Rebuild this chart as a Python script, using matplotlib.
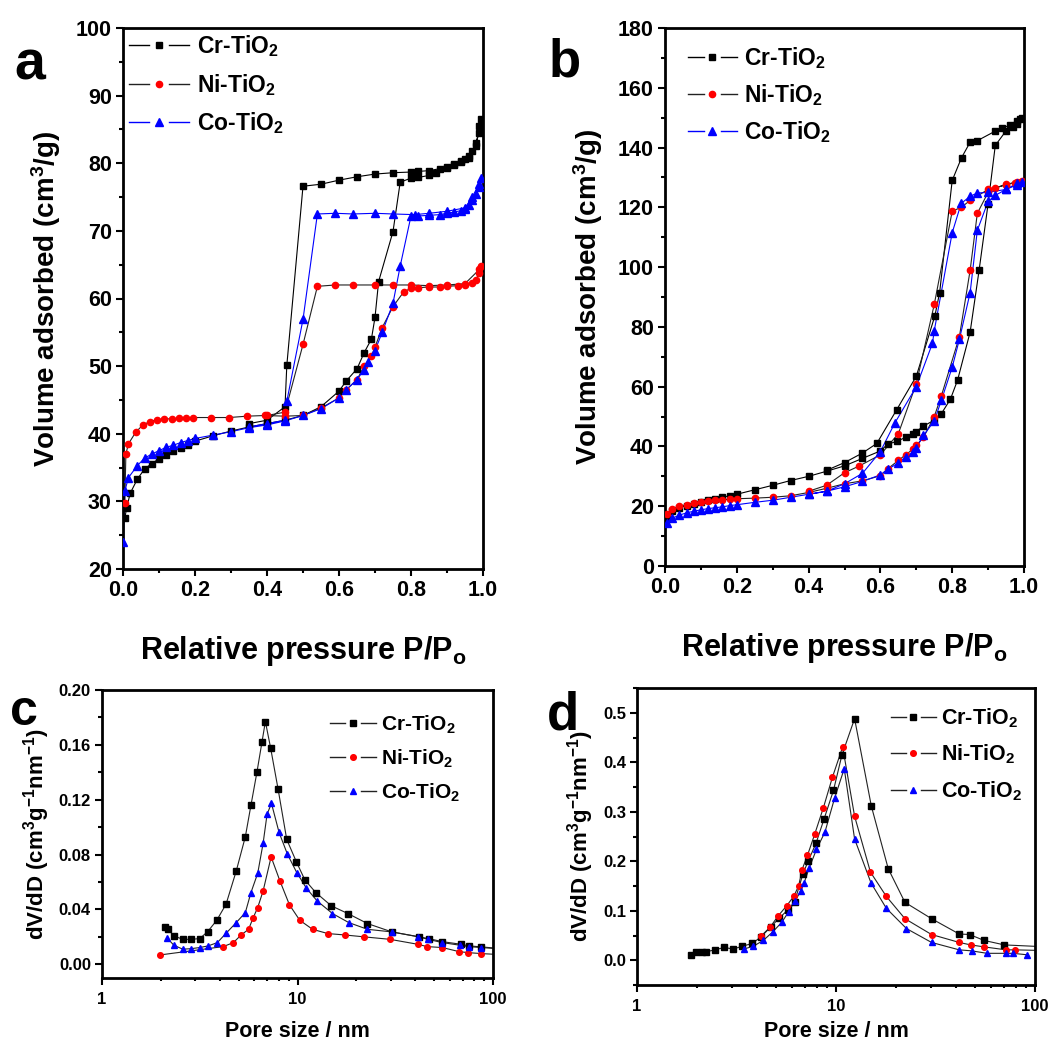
import numpy as np
import matplotlib.pyplot as plt
from matplotlib.lines import Line2D
from matplotlib.legend_handler import HandlerBase
from matplotlib.ticker import MultipleLocator, LogLocator, NullFormatter, FixedLocator, FixedFormatter

plt.rcParams['font.family'] = ['Liberation Sans', 'DejaVu Sans']
plt.rcParams['font.weight'] = 'bold'
plt.rcParams['mathtext.fontset'] = 'custom'
plt.rcParams['mathtext.rm'] = 'Liberation Sans:bold'
plt.rcParams['mathtext.bf'] = 'Liberation Sans:bold'
plt.rcParams['mathtext.it'] = 'Liberation Sans:bold'
plt.rcParams['mathtext.default'] = 'rm'

samples = ['Cr-TiO$_2$', 'Ni-TiO$_2$', 'Co-TiO$_2$']

# ---- panel a: N2 isotherms (adsorption + desorption branches)
cr_a_ads_p = [0.005, 0.01, 0.02, 0.04, 0.06, 0.08, 0.10, 0.12, 0.14, 0.16, 0.18, 0.20, 0.25, 0.30, 0.35, 0.40,
              0.45, 0.50, 0.55, 0.60, 0.62, 0.65, 0.67, 0.69, 0.70, 0.71, 0.75, 0.77, 0.80, 0.82, 0.85, 0.87,
              0.90, 0.92, 0.94, 0.95, 0.96, 0.97, 0.98, 0.99, 0.995]
cr_a_ads_v = [27.5, 29.0, 31.2, 33.3, 34.8, 35.6, 36.3, 36.9, 37.4, 37.9, 38.4, 38.9, 39.7, 40.4, 41.0, 41.5,
              42.0, 42.7, 44.0, 46.3, 47.8, 49.6, 52.0, 54.0, 57.2, 62.5, 69.9, 77.2, 77.8, 77.9, 78.2, 78.6,
              79.3, 79.8, 80.3, 80.6, 81.0, 81.8, 83.0, 84.5, 86.5]
cr_a_des_p = [0.99, 0.98, 0.96, 0.94, 0.92, 0.90, 0.88, 0.85, 0.82, 0.80, 0.75, 0.70, 0.65, 0.60, 0.55, 0.50,
              0.455, 0.45, 0.40, 0.35]
cr_a_des_v = [85.5, 82.5, 80.8, 80.2, 79.9, 79.5, 79.2, 78.9, 78.8, 78.7, 78.6, 78.4, 78.0, 77.5, 76.9, 76.6,
              50.1, 44.0, 42.0, 41.5]

ni_a_ads_p = [0.005, 0.008, 0.015, 0.035, 0.055, 0.075, 0.095, 0.115, 0.135, 0.155, 0.175, 0.195, 0.245, 0.295,
              0.345, 0.395, 0.45, 0.50, 0.55, 0.60, 0.62, 0.65, 0.67, 0.69, 0.70, 0.72, 0.75, 0.78, 0.80, 0.82,
              0.85, 0.88, 0.90, 0.93, 0.95, 0.97, 0.98, 0.99, 0.995]
ni_a_ads_v = [29.7, 37.0, 38.5, 40.2, 41.3, 41.8, 42.1, 42.2, 42.2, 42.3, 42.3, 42.4, 42.4, 42.4,
              42.6, 42.7, 42.6, 42.7, 43.8, 45.3, 46.5, 48.0, 50.0, 51.5, 52.8, 55.7, 58.8, 61.0, 61.5, 61.6,
              61.7, 61.7, 61.8, 61.9, 62.0, 62.3, 62.8, 63.8, 64.8]
ni_a_des_p = [0.99, 0.95, 0.90, 0.85, 0.80, 0.75, 0.70, 0.64, 0.59, 0.54, 0.50, 0.45, 0.40]
ni_a_des_v = [64.3, 62.2, 62.0, 61.9, 62.0, 62.0, 62.0, 62.0, 62.0, 61.8, 53.2, 43.2, 42.7]

co_a_ads_p = [0.001, 0.005, 0.015, 0.04, 0.06, 0.08, 0.10, 0.12, 0.14, 0.16, 0.18, 0.20, 0.25, 0.30, 0.35, 0.40,
              0.45, 0.50, 0.55, 0.60, 0.62, 0.65, 0.67, 0.68, 0.70, 0.72, 0.75, 0.77, 0.80, 0.82, 0.85, 0.88,
              0.90, 0.92, 0.94, 0.95, 0.96, 0.97, 0.98, 0.99, 0.995]
co_a_ads_v = [24.0, 31.5, 33.5, 35.3, 36.4, 37.0, 37.5, 38.0, 38.3, 38.7, 39.0, 39.3, 39.8, 40.3, 40.9, 41.3,
              41.9, 42.7, 43.7, 45.3, 46.5, 48.0, 49.5, 50.6, 52.3, 55.0, 59.3, 64.8, 72.2, 72.2, 72.3, 72.4,
              72.6, 72.8, 73.0, 73.3, 73.8, 74.5, 75.5, 76.5, 77.8]
co_a_des_p = [0.99, 0.97, 0.95, 0.90, 0.85, 0.81, 0.75, 0.70, 0.64, 0.59, 0.54, 0.50, 0.455, 0.45, 0.40, 0.35]
co_a_des_v = [77.0, 75.0, 73.4, 72.9, 72.6, 72.4, 72.5, 72.6, 72.5, 72.6, 72.5, 56.9, 44.8, 42.0, 41.5, 41.0]

# ---- panel b
cr_b_ads_p = [0.005, 0.02, 0.04, 0.06, 0.08, 0.10, 0.12, 0.14, 0.16, 0.18, 0.20, 0.25, 0.30, 0.35, 0.40, 0.45,
              0.50, 0.55, 0.60, 0.62, 0.645, 0.67, 0.69, 0.70, 0.72, 0.75, 0.77, 0.795, 0.815, 0.85, 0.875,
              0.90, 0.92, 0.95, 0.97, 0.98, 0.99]
cr_b_ads_v = [16.5, 18.5, 19.5, 20.2, 20.8, 21.5, 22.0, 22.5, 23.0, 23.5, 24.0, 25.5, 27.0, 28.6, 30.0, 31.7,
              33.5, 36.0, 38.5, 40.7, 41.7, 43.0, 44.3, 45.0, 46.8, 48.8, 51.0, 55.8, 62.2, 78.3, 99.0,
              121.2, 140.7, 145.6, 147.0, 148.0, 149.5]
cr_b_des_p = [0.995, 0.98, 0.96, 0.94, 0.92, 0.87, 0.85, 0.826, 0.80, 0.765, 0.752, 0.70, 0.645, 0.59, 0.55,
              0.50, 0.45]
cr_b_des_v = [150.0, 149.0, 147.5, 146.5, 145.5, 142.3, 141.8, 136.6, 129.0, 91.5, 83.8, 63.5, 52.2, 41.0, 37.8,
              34.6, 32.0]

ni_b_ads_p = [0.005, 0.02, 0.04, 0.06, 0.08, 0.10, 0.12, 0.14, 0.16, 0.18, 0.20, 0.25, 0.30, 0.35, 0.40, 0.45,
              0.50, 0.55, 0.60, 0.62, 0.65, 0.67, 0.69, 0.70, 0.72, 0.75, 0.77, 0.82, 0.85, 0.87, 0.90, 0.92,
              0.95, 0.975, 0.995]
ni_b_ads_v = [17.5, 19.0, 20.0, 20.5, 21.0, 21.3, 21.7, 22.0, 22.2, 22.3, 22.5, 22.7, 23.0, 23.5, 24.6, 26.0,
              27.5, 28.5, 30.2, 32.5, 35.3, 37.2, 39.0, 40.4, 43.0, 50.0, 57.0, 76.7, 99.0, 118.0, 125.0, 126.4,
              127.7, 128.3, 128.7]
ni_b_des_p = [0.98, 0.95, 0.90, 0.85, 0.825, 0.80, 0.75, 0.70, 0.65, 0.60, 0.54, 0.50, 0.45, 0.40]
ni_b_des_v = [128.5, 127.5, 126.0, 122.3, 120.0, 118.7, 87.5, 61.0, 44.3, 37.2, 33.4, 31.2, 27.0, 25.0]

co_b_ads_p = [0.005, 0.02, 0.04, 0.06, 0.08, 0.10, 0.12, 0.14, 0.16, 0.18, 0.20, 0.25, 0.30, 0.35, 0.40, 0.45,
              0.50, 0.55, 0.60, 0.62, 0.65, 0.67, 0.69, 0.70, 0.72, 0.75, 0.77, 0.80, 0.82, 0.85, 0.87, 0.90,
              0.92, 0.95, 0.98, 0.995]
co_b_ads_v = [14.5, 16.0, 17.0, 17.8, 18.3, 18.8, 19.2, 19.5, 19.8, 20.2, 20.5, 21.3, 22.0, 23.0, 24.0, 25.0,
              26.5, 28.3, 30.5, 32.3, 34.5, 36.5, 38.0, 39.5, 43.7, 48.5, 55.5, 66.5, 75.8, 91.5, 112.3, 122.0,
              124.0, 126.0, 127.5, 128.5]
co_b_des_p = [0.98, 0.95, 0.90, 0.87, 0.85, 0.825, 0.80, 0.75, 0.745, 0.70, 0.64, 0.60, 0.55, 0.50, 0.45, 0.40]
co_b_des_v = [128.0, 126.0, 125.0, 124.8, 123.7, 121.3, 111.5, 78.7, 74.5, 60.0, 47.8, 38.3, 31.0, 27.5, 25.0, 24.0]

# ---- panel c: pore size distribution
cr_c_d = [2.10, 2.18, 2.33, 2.59, 2.84, 3.16, 3.47, 3.86, 4.31, 4.86, 5.41, 5.78, 6.20, 6.58, 6.85, 7.28, 7.95,
          8.81, 9.87, 10.9, 12.4, 14.9, 18.1, 22.8, 30.4, 41.7, 46.9, 55.1, 68.5, 75.6, 87.0, 130.0]
cr_c_v = [0.0273, 0.0255, 0.0207, 0.0182, 0.0182, 0.0187, 0.0238, 0.032, 0.0438, 0.068, 0.093, 0.116, 0.140,
          0.162, 0.177, 0.158, 0.128, 0.091, 0.0747, 0.0616, 0.0523, 0.0426, 0.037, 0.0297, 0.0236, 0.020,
          0.0187, 0.0165, 0.0146, 0.0134, 0.0127, 0.0105]
ni_c_d = [1.98, 4.17, 4.70, 5.15, 5.62, 5.92, 6.26, 6.67, 7.33, 8.13, 9.10, 10.27, 11.94, 14.3, 17.4, 21.9, 29.7,
          41.2, 46.0, 55.1, 67.2, 74.8, 87.0, 130.0]
ni_c_v = [0.0068, 0.0129, 0.0158, 0.0214, 0.0255, 0.0336, 0.0414, 0.0535, 0.0783, 0.0608, 0.0433, 0.0321, 0.0255,
          0.0224, 0.0214, 0.020, 0.0182, 0.0146, 0.0129, 0.0122, 0.0092, 0.0085, 0.0078, 0.0065]
co_c_d = [2.16, 2.33, 2.59, 2.86, 3.16, 3.49, 3.89, 4.31, 4.86, 5.41, 5.78, 6.26, 6.67, 6.99, 7.36, 8.05, 8.88,
          9.91, 11.1, 12.6, 15.1, 18.3, 22.8, 30.4, 41.2, 46.5, 55.1, 67.8, 75.1, 87.0, 130.0]
co_c_v = [0.019, 0.0139, 0.011, 0.0114, 0.0122, 0.0134, 0.0158, 0.0226, 0.0304, 0.0377, 0.0523, 0.0664, 0.0883,
          0.1095, 0.1173, 0.0961, 0.0803, 0.0669, 0.0555, 0.0462, 0.037, 0.0304, 0.0255, 0.0236, 0.0202, 0.0182,
          0.0158, 0.0139, 0.0129, 0.0122, 0.0105]

# ---- panel d
cr_d_d = [1.87, 1.98, 2.11, 2.22, 2.46, 2.75, 3.03, 3.37, 3.79, 4.18, 4.70, 5.19, 5.71, 6.19, 6.83, 7.24, 7.93,
          8.72, 9.71, 10.7, 12.4, 15.06, 18.3, 22.2, 30.2, 41.6, 46.9, 55.5, 70.1, 130.0]
cr_d_v = [0.011, 0.0157, 0.017, 0.017, 0.021, 0.026, 0.0226, 0.028, 0.034, 0.0465, 0.067, 0.0855, 0.101, 0.118,
          0.175, 0.200, 0.236, 0.286, 0.343, 0.414, 0.488, 0.311, 0.185, 0.117, 0.084, 0.053, 0.052, 0.040,
          0.031, 0.026]
ni_d_d = [4.18, 4.67, 5.12, 5.65, 6.13, 6.49, 6.75, 7.19, 7.82, 8.64, 9.60, 10.8, 12.4, 14.9, 17.9, 22.2, 30.2,
          41.6, 47.5, 55.5, 71.6, 79.3, 130.0]
ni_d_v = [0.048, 0.067, 0.0896, 0.110, 0.129, 0.150, 0.183, 0.212, 0.255, 0.308, 0.370, 0.431, 0.291, 0.178,
          0.129, 0.084, 0.052, 0.036, 0.031, 0.027, 0.021, 0.021, 0.019]
co_d_d = [3.43, 3.83, 4.31, 4.80, 5.35, 5.78, 6.23, 6.64, 6.91, 7.34, 7.98, 8.80, 9.83, 11.0, 12.4, 15.0, 17.9,
          22.6, 30.2, 41.6, 48.0, 57.4, 71.6, 77.5, 91.5]
co_d_v = [0.0226, 0.028, 0.040, 0.057, 0.077, 0.098, 0.120, 0.139, 0.156, 0.187, 0.224, 0.259, 0.327, 0.387,
          0.245, 0.156, 0.105, 0.064, 0.036, 0.021, 0.019, 0.014, 0.014, 0.014, 0.011]

colors = ['black', 'red', 'blue']
markers = ['s', 'o', '^']
msizes = [4.5, 4.5, 5.5]

W, H = 1049, 1045
fig = plt.figure(figsize=(W / 100, H / 100), dpi=100)


class GapLineHandler(HandlerBase):
    """legend key drawn as  — marker —  with the line broken around the marker"""
    def create_artists(self, legend, orig, xdescent, ydescent, width, height, fontsize, trans):
        y = height / 2 - ydescent
        x0 = -xdescent
        x1 = x0 + width
        xm = (x0 + x1) / 2
        g = 0.17 * width
        kw = dict(color=orig.get_color(), lw=orig.get_linewidth())
        left = Line2D([x0, xm - g], [y, y], **kw)
        right = Line2D([xm + g, x1], [y, y], **kw)
        mk = Line2D([xm], [y], ls='none', marker=orig.get_marker(), markersize=orig.get_markersize(),
                    markerfacecolor=orig.get_markerfacecolor(), markeredgecolor=orig.get_markeredgecolor())
        for a in (left, right, mk):
            a.set_transform(trans)
        return [left, right, mk]


def px_axes(left, top, right, bottom):
    return fig.add_axes([left / W, 1 - bottom / H, (right - left) / W, (bottom - top) / H])


def style_axes(ax, tick_size):
    for s in ax.spines.values():
        s.set_linewidth(2.0)
    ax.tick_params(which='both', direction='out', top=False, right=False, width=1.5,
                   labelsize=tick_size, pad=3)
    ax.tick_params(which='major', length=5)
    ax.tick_params(which='minor', length=3)
    for lab in ax.get_xticklabels() + ax.get_yticklabels():
        lab.set_fontweight('bold')


def legend_handles(line_colors, ms_scale=1.0):
    hs = []
    for c, m, ms, lc in zip(colors, markers, msizes, line_colors):
        hs.append(Line2D([], [], color=lc, lw=1.0, marker=m, markersize=ms * ms_scale,
                         markerfacecolor=c, markeredgecolor=c))
    return hs


# ---------- a and b
iso_sets = [
    ('a', (123, 28, 483, 569), (20, 100), 10, 5,
     [(cr_a_ads_p, cr_a_ads_v, cr_a_des_p, cr_a_des_v),
      (ni_a_ads_p, ni_a_ads_v, ni_a_des_p, ni_a_des_v),
      (co_a_ads_p, co_a_ads_v, co_a_des_p, co_a_des_v)],
     dict(anchor=(-0.009, 1.007), hlen=2.6, ls=0.55, htp=0.35), 40, (-0.303, 0.978)),
    ('b', (665, 28, 1024, 566), (0, 180), 20, 10,
     [(cr_b_ads_p, cr_b_ads_v, cr_b_des_p, cr_b_des_v),
      (ni_b_ads_p, ni_b_ads_v, ni_b_des_p, ni_b_des_v),
      (co_b_ads_p, co_b_ads_v, co_b_des_p, co_b_des_v)],
     dict(anchor=(0.038, 0.985), hlen=2.15, ls=0.48, htp=0.3), 38, (-0.323, 0.983)),
]
line_cols_ab = ['black', '#222222', 'blue']

for letter, box, ylim, ymaj, ymin, series, lg, lsize, lpos in iso_sets:
    ax = px_axes(*box)
    for (ap, av, dp, dv), c, m, ms, lc in zip(series, colors, markers, msizes, line_cols_ab):
        p = list(ap) + list(dp)
        v = list(av) + list(dv)
        ax.plot(p, v, color=lc, lw=0.8, zorder=2)
        ax.plot(p, v, ls='none', marker=m, ms=ms, color=c, mec=c, zorder=3)
    ax.set_xlim(0, 1.0)
    ax.set_ylim(*ylim)
    ax.xaxis.set_major_locator(MultipleLocator(0.2))
    ax.xaxis.set_minor_locator(MultipleLocator(0.1))
    ax.yaxis.set_major_locator(MultipleLocator(ymaj))
    ax.yaxis.set_minor_locator(MultipleLocator(ymin))
    ax.xaxis.set_major_formatter(plt.FuncFormatter(lambda x, pos: f'{x:.1f}'))
    style_axes(ax, 15.5)
    ax.set_xlabel('Relative pressure P/P$_\\mathregular{o}$', fontsize=22, fontweight='bold', labelpad=24)
    ax.set_ylabel('Volume adsorbed (cm$^3$/g)', fontsize=20, fontweight='bold', labelpad=9)
    fs = 16.5
    ax.legend(legend_handles(line_cols_ab), samples, loc='upper left', handler_map={Line2D: GapLineHandler()},
              bbox_to_anchor=lg['anchor'], frameon=False, fontsize=fs, handlelength=lg['hlen'],
              handletextpad=lg['htp'], labelspacing=lg['ls'], borderaxespad=0.2, borderpad=0.2)
    ax.text(lpos[0], lpos[1], letter, transform=ax.transAxes, fontsize=lsize,
            fontweight='bold', ha='left', va='top')

# ---------- c and d
psd_sets = [
    ('c', (102, 690, 493, 978), (-0.01, 0.20), 0.04, 0.02, '{:.2f}',
     [(cr_c_d, cr_c_v), (ni_c_d, ni_c_v), (co_c_d, co_c_v)],
     dict(anchor=(0.562, 0.948), hlen=2.2, ls=0.57, htp=0.25, fs=15), 36, (-0.235, 1.005), -0.15),
    ('d', (637, 688, 1035, 985), (-0.05, 0.55), 0.1, 0.05, '{:.1f}',
     [(cr_d_d, cr_d_v), (ni_d_d, ni_d_v), (co_d_d, co_d_v)],
     dict(anchor=(0.616, 0.968), hlen=2.1, ls=0.61, htp=0.25, fs=15.5), 38, (-0.226, 0.993), -0.122),
]

for letter, box, ylim, ymaj, ymin, fmt, series, lg, lsize, lpos, xl_y in psd_sets:
    ax = px_axes(*box)
    for (d, v), c, m, ms in zip(series, colors, markers, msizes):
        ax.plot(d, v, color='#222222', lw=0.8, zorder=2)
        ax.plot(d, v, ls='none', marker=m, ms=ms * 0.9, color=c, mec=c, zorder=3)
    ax.set_xscale('log')
    ax.set_xlim(1, 100)
    ax.set_ylim(*ylim)
    ax.xaxis.set_major_locator(FixedLocator([1, 10, 100]))
    ax.xaxis.set_major_formatter(FixedFormatter(['1', '10', '100']))
    ax.xaxis.set_minor_locator(LogLocator(base=10, subs=np.arange(2, 10)))
    ax.xaxis.set_minor_formatter(NullFormatter())
    ax.yaxis.set_major_locator(MultipleLocator(ymaj))
    ax.yaxis.set_minor_locator(MultipleLocator(ymin))
    ax.yaxis.set_major_formatter(plt.FuncFormatter(lambda y, pos, f=fmt: f.format(0.0 if abs(y) < 1e-9 else y)))
    style_axes(ax, 12)
    ax.tick_params(axis='x', labelsize=12, pad=5)
    ax.tick_params(which='minor', axis='x', length=2.5)
    ax.set_xlabel('Pore size / nm', fontsize=15.5, fontweight='bold')
    ax.xaxis.set_label_coords(0.5, xl_y)
    ax.set_ylabel('dV/dD (cm$^3$g$^{-1}$nm$^{-1}$)', fontsize=16, fontweight='bold', labelpad=5)
    ax.legend(legend_handles(['#222222'] * 3, 0.9), samples, loc='upper left',
              handler_map={Line2D: GapLineHandler()},
              bbox_to_anchor=lg['anchor'], frameon=False, fontsize=lg['fs'], handlelength=lg['hlen'],
              handletextpad=lg['htp'], labelspacing=lg['ls'], borderaxespad=0.2, borderpad=0.2)
    ax.text(lpos[0], lpos[1], letter, transform=ax.transAxes, fontsize=lsize,
            fontweight='bold', ha='left', va='top')

fig.savefig('out.png', dpi=100)
